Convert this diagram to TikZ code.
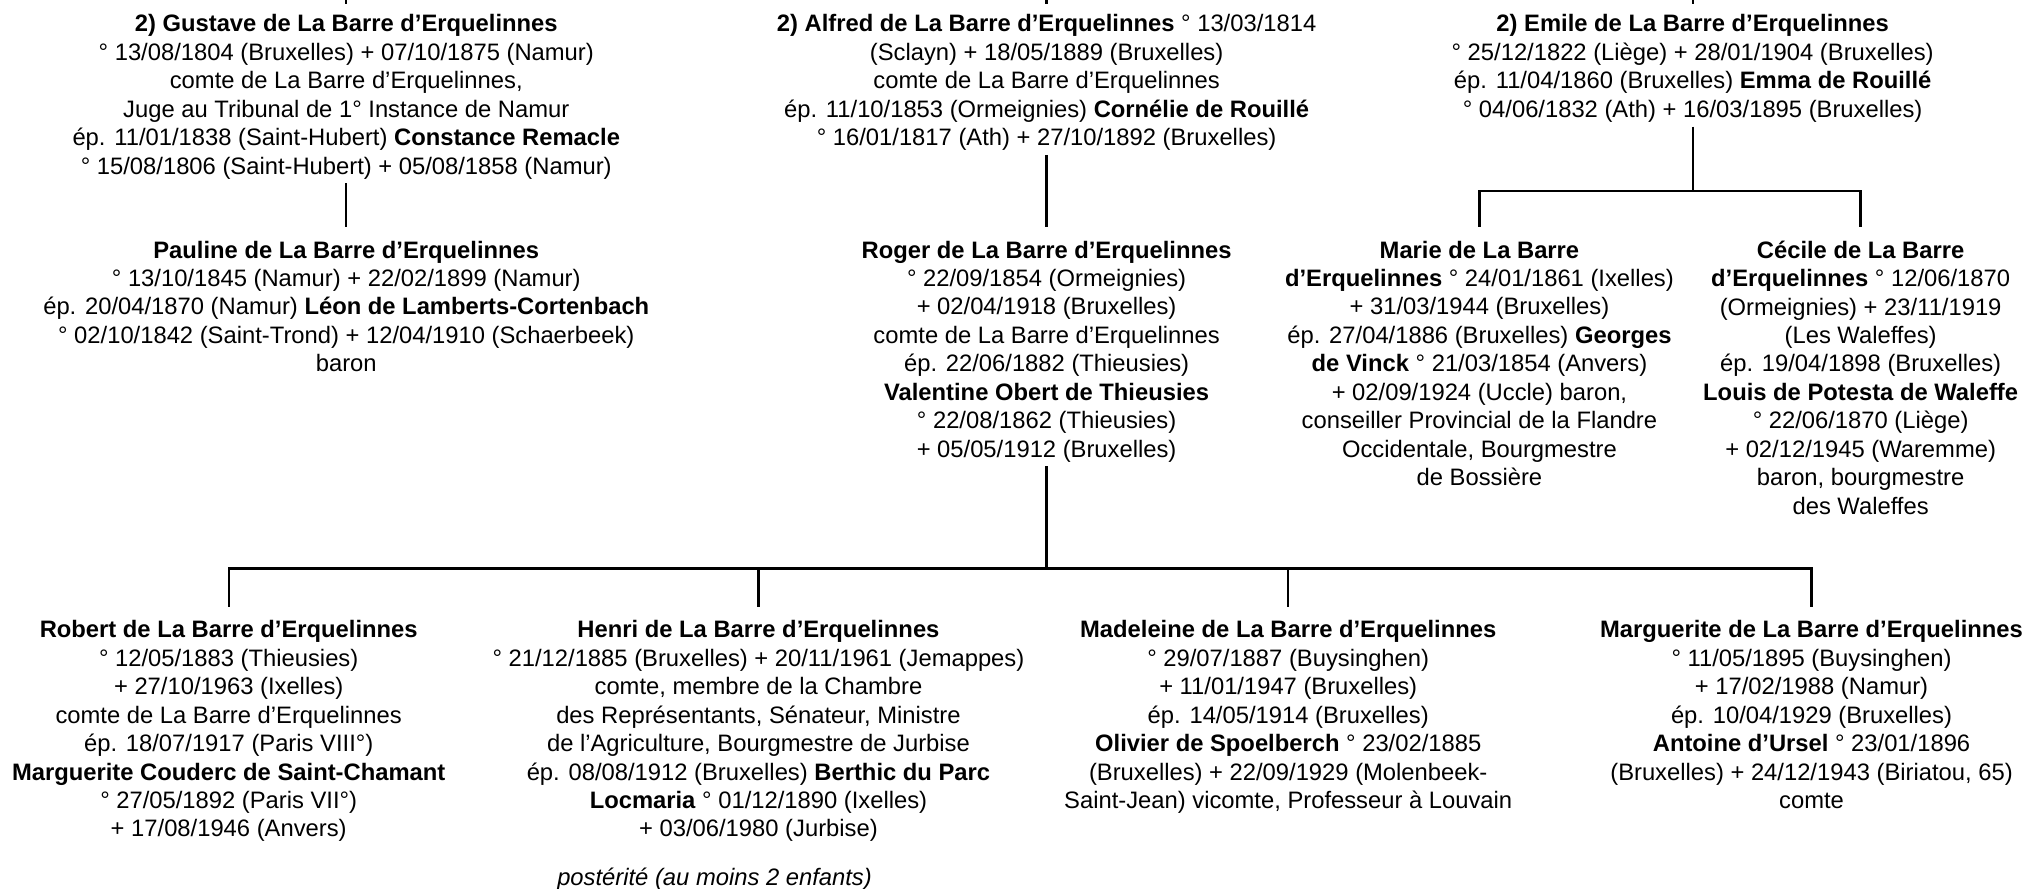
\documentclass[tikz,border=0pt]{standalone}
\usepackage{fontspec}
\setmainfont{Liberation Sans}
\usepackage{tikz}
\tikzset{person/.style={align=center,inner sep=0pt,anchor=north,font=\fontsize{9.2}{11}\selectfont}}
\tikzset{down/.style={line width=.9pt,shorten <=1.5pt}}
\tikzset{up/.style={line width=.9pt,shorten >=5pt}}

\begin{document}
\begin{tikzpicture}[x=.5pt,y=-.5pt]
    \useasboundingbox (0,0) rectangle (1568,688);
    % first generation
    \node[person] (gus) at (268,11) {\textbf{2) Gustave de La Barre d’Erquelinnes}\\
      ° 13/08/1804 (Bruxelles) + 07/10/1875 (Namur)\\
      comte de La Barre d’Erquelinnes,\\
      Juge au Tribunal de 1° Instance de Namur\\
      ép. 11/01/1838 (Saint-Hubert) \textbf{Constance Remacle}\\
      ° 15/08/1806 (Saint-Hubert) + 05/08/1858 (Namur)};
    \node[person] (alf) at (810,11) {\textbf{2) Alfred de La Barre d’Erquelinnes} ° 13/03/1814\\
      (Sclayn) + 18/05/1889 (Bruxelles)\\
      comte de La Barre d’Erquelinnes\\
      ép. 11/10/1853 (Ormeignies) \textbf{Cornélie de Rouillé}\\
      ° 16/01/1817 (Ath) + 27/10/1892 (Bruxelles)};
    \node[person] (emi) at (1310,11) {\textbf{2) Emile de La Barre d’Erquelinnes}\\
      ° 25/12/1822 (Liège) + 28/01/1904 (Bruxelles)\\
      ép. 11/04/1860 (Bruxelles) \textbf{Emma de Rouillé}\\
      ° 04/06/1832 (Ath) + 16/03/1895 (Bruxelles)};
    \coordinate (gtop) at (268,0);
    \coordinate (atop) at (810,0);
    \coordinate (etop) at (1310,0);
    \draw[up,shorten >=4pt] (gtop) -- (gus.north);
    \draw[up,shorten >=4pt] (atop) -- (alf.north);
    \draw[up,shorten >=4pt] (etop) -- (emi.north);
    % second generation
    \node[person] (pau) at (268,186) {\textbf{Pauline de La Barre d’Erquelinnes}\\
      ° 13/10/1845 (Namur) + 22/02/1899 (Namur)\\
      ép. 20/04/1870 (Namur) \textbf{Léon de Lamberts-Cortenbach}\\
      ° 02/10/1842 (Saint-Trond) + 12/04/1910 (Schaerbeek)\\
      baron};
    \node[person] (rog) at (810,186) {\textbf{Roger de La Barre d’Erquelinnes}\\
      ° 22/09/1854 (Ormeignies)\\
      + 02/04/1918 (Bruxelles)\\
      comte de La Barre d’Erquelinnes\\
      ép. 22/06/1882 (Thieusies)\\
      \textbf{Valentine Obert de Thieusies}\\
      ° 22/08/1862 (Thieusies)\\
      + 05/05/1912 (Bruxelles)};
    \node[person] (mar) at (1145,186) {\textbf{Marie de La Barre}\\
      \textbf{d’Erquelinnes} ° 24/01/1861 (Ixelles)\\
      + 31/03/1944 (Bruxelles)\\
      ép. 27/04/1886 (Bruxelles) \textbf{Georges}\\
      \textbf{de Vinck} ° 21/03/1854 (Anvers)\\
      + 02/09/1924 (Uccle) baron,\\
      conseiller Provincial de la Flandre\\
      Occidentale, Bourgmestre\\
      de Bossière};
    \node[person] (cec) at (1440,186) {\textbf{Cécile de La Barre}\\
      \textbf{d’Erquelinnes} ° 12/06/1870\\
      (Ormeignies) + 23/11/1919\\
      (Les Waleffes)\\
      ép. 19/04/1898 (Bruxelles)\\
      \textbf{Louis de Potesta de Waleffe}\\
      ° 22/06/1870 (Liège)\\
      + 02/12/1945 (Waremme)\\
      baron, bourgmestre\\
      des Waleffes};
    \draw[down,up] (gus.south) -- (pau.north);
    \draw[down,up] (alf.south) -- (rog.north);
    \coordinate (ebar) at (1310,148);
    \draw[down] (emi.south) -- (ebar);
    \draw[up] (ebar) -| (mar.north);
    \draw[up] (ebar) -| (cec.north);
    % third generation
    \node[person] (rob) at (177,480) {\textbf{Robert de La Barre d’Erquelinnes}\\
      ° 12/05/1883 (Thieusies)\\
      + 27/10/1963 (Ixelles)\\
      comte de La Barre d’Erquelinnes\\
      ép. 18/07/1917 (Paris VIII°)\\
      \textbf{Marguerite Couderc de Saint-Chamant}\\
      ° 27/05/1892 (Paris VII°)\\
      + 17/08/1946 (Anvers)};
    \node[person] (hen) at (587,480) {\textbf{Henri de La Barre d’Erquelinnes}\\
      ° 21/12/1885 (Bruxelles) + 20/11/1961 (Jemappes)\\
      comte, membre de la Chambre\\
      des Représentants, Sénateur, Ministre\\
      de l’Agriculture, Bourgmestre de Jurbise\\
      ép. 08/08/1912 (Bruxelles) \textbf{Berthic du Parc}\\
      \textbf{Locmaria} ° 01/12/1890 (Ixelles)\\
      + 03/06/1980 (Jurbise)};
    \node[person] (mad) at (997,480) {\textbf{Madeleine de La Barre d’Erquelinnes}\\
      ° 29/07/1887 (Buysinghen)\\
      + 11/01/1947 (Bruxelles)\\
      ép. 14/05/1914 (Bruxelles)\\
      \textbf{Olivier de Spoelberch} ° 23/02/1885\\
      (Bruxelles) + 22/09/1929 (Molenbeek-\\
      Saint-Jean) vicomte, Professeur à Louvain};
    \node[person] (mgt) at (1402,480) {\textbf{Marguerite de La Barre d’Erquelinnes}\\
      ° 11/05/1895 (Buysinghen)\\
      + 17/02/1988 (Namur)\\
      ép. 10/04/1929 (Bruxelles)\\
      \textbf{Antoine d’Ursel} ° 23/01/1896\\
      (Bruxelles) + 24/12/1943 (Biriatou, 65)\\
      comte};
    \node[person,font=\fontsize{9.2}{11}\selectfont\itshape] (post) at (553,671) {postérité (au moins 2 enfants)};
    \coordinate (rbar) at (810,440);
    \draw[down] (rog.south) -- (rbar);
    \draw[up] (rbar) -| (rob.north);
    \draw[up] (rbar) -| (hen.north);
    \draw[up] (rbar) -| (mad.north);
    \draw[up] (rbar) -| (mgt.north);
\end{tikzpicture}
\end{document}
